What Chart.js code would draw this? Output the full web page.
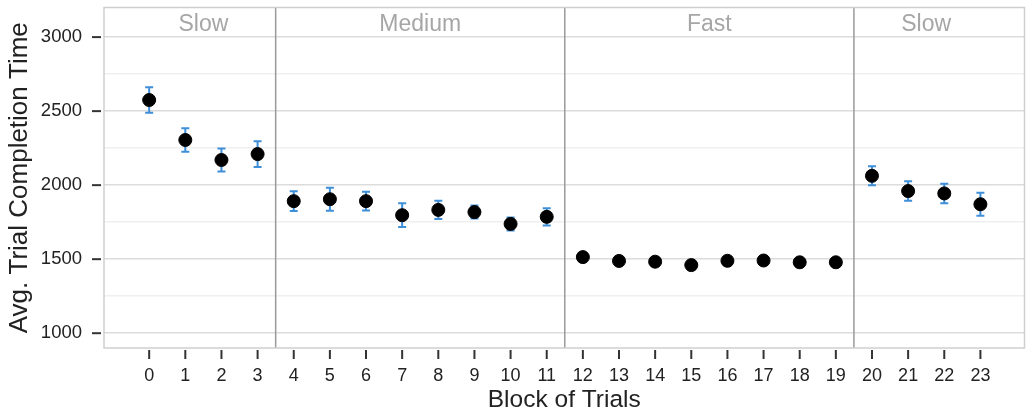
<!DOCTYPE html>
<html>
<head>
<meta charset="utf-8">
<script src="https://cdn.jsdelivr.net/npm/chart.js@4"></script>
<style>
  html, body { margin: 0; padding: 0; background: #fff; }
  #wrap { width: 1032px; height: 416px; }
</style>
</head>
<body>
<div id="wrap"><canvas id="chart" width="1032" height="416"></canvas></div>
<script>
// data
const blocks = [0, 1, 2, 3, 4, 5, 6, 7, 8, 9, 10, 11, 12, 13, 14, 15, 16, 17, 18, 19, 20, 21, 22, 23];
const meanTimes = [2575, 2305, 2170, 2210, 1892, 1905, 1892, 1797, 1833, 1818, 1738, 1786,
                   1514, 1488, 1483, 1460, 1489, 1491, 1479, 1479, 2063, 1960, 1944, 1871];
const errTimes = [86, 80, 78, 87, 66, 78, 64, 80, 62, 44, 44, 58,
                  14, 18, 12, 18, 12, 10, 11, 11, 64, 66, 66, 77];
const phaseNames = ['Slow', 'Medium', 'Fast', 'Slow'];
const phaseCenters = [1.5, 7.5, 15.5, 21.5];
const phaseBreaks = [3.5, 11.5, 19.5];
const yMajor = [1000, 1500, 2000, 2500, 3000];
const yMinor = [1250, 1750, 2250, 2750];

const FONT = "'Liberation Sans', Arial, Helvetica, sans-serif";

const panelPlugin = {
  id: 'panel',
  beforeDatasetsDraw(chart) {
    const ctx = chart.ctx;
    const a = chart.chartArea;
    const x = chart.scales.x, y = chart.scales.y;
    ctx.save();
    // phase separators
    ctx.strokeStyle = '#9a9a9a';
    ctx.lineWidth = 1.5;
    phaseBreaks.forEach(b => {
      const px = x.getPixelForValue(b);
      ctx.beginPath();
      ctx.moveTo(px, a.top);
      ctx.lineTo(px, a.bottom);
      ctx.stroke();
    });
    // panel border
    ctx.strokeStyle = '#cfcfcf';
    ctx.lineWidth = 1.5;
    ctx.strokeRect(a.left, a.top, a.right - a.left, a.bottom - a.top);
    // phase labels
    ctx.fillStyle = '#a6a6a6';
    ctx.font = '23px ' + FONT;
    ctx.textAlign = 'center';
    ctx.textBaseline = 'middle';
    phaseNames.forEach((n, i) => {
      ctx.fillText(n, x.getPixelForValue(phaseCenters[i]), a.top + 17);
    });
    // error bars
    ctx.strokeStyle = '#3f8fd8';
    ctx.lineWidth = 2;
    blocks.forEach((b, i) => {
      const px = x.getPixelForValue(b);
      const lo = y.getPixelForValue(meanTimes[i] - errTimes[i]);
      const hi = y.getPixelForValue(meanTimes[i] + errTimes[i]);
      ctx.beginPath();
      ctx.moveTo(px, lo); ctx.lineTo(px, hi);
      ctx.moveTo(px - 4, lo); ctx.lineTo(px + 4, lo);
      ctx.moveTo(px - 4, hi); ctx.lineTo(px + 4, hi);
      ctx.stroke();
    });
    ctx.restore();
  },
  afterDraw(chart) {
    // tick marks, detached from the panel like ggplot
    const ctx = chart.ctx;
    const a = chart.chartArea;
    const x = chart.scales.x, y = chart.scales.y;
    ctx.save();
    ctx.strokeStyle = '#333';
    ctx.lineWidth = 2;
    yMajor.forEach(v => {
      const py = y.getPixelForValue(v);
      ctx.beginPath();
      ctx.moveTo(a.left - 12, py); ctx.lineTo(a.left - 3, py);
      ctx.stroke();
    });
    blocks.forEach(v => {
      const px = x.getPixelForValue(v);
      ctx.beginPath();
      ctx.moveTo(px, a.bottom + 2); ctx.lineTo(px, a.bottom + 11);
      ctx.stroke();
    });
    ctx.restore();
  }
};

new Chart(document.getElementById('chart'), {
  type: 'scatter',
  data: {
    datasets: [{
      label: 'Avg. Trial Completion Time',
      data: blocks.map((b, i) => ({ x: b, y: meanTimes[i] })),
      backgroundColor: '#000',
      borderColor: '#000',
      pointRadius: 6.5,
      pointHoverRadius: 6.5
    }]
  },
  options: {
    responsive: false,
    animation: false,
    layout: { padding: { top: 7, right: -3, left: 0, bottom: 0 } },
    plugins: {
      legend: { display: false },
      tooltip: { enabled: false }
    },
    scales: {
      x: {
        type: 'linear',
        min: -1.25,
        max: 24.22,
        afterBuildTicks: s => { s.ticks = blocks.map(v => ({ value: v })); },
        afterFit: s => { s.height = 68; s.paddingLeft = 0; s.paddingRight = 0; },
        grid: { display: false, drawTicks: true, tickLength: 11, tickColor: 'rgba(0,0,0,0)' },
        border: { display: false },
        ticks: {
          autoSkip: false,
          maxRotation: 0,
          padding: 6,
          color: '#222',
          font: { family: FONT, size: 18 }
        },
        title: {
          display: true,
          text: 'Block of Trials',
          color: '#222',
          font: { family: FONT, size: 24.5 },
          padding: { top: 0, bottom: 1 }
        }
      },
      y: {
        min: 900,
        max: 3200,
        afterBuildTicks: s => {
          s.ticks = yMajor.concat(yMinor).sort((p, q) => p - q).map(v => ({ value: v }));
        },
        afterFit: s => { s.width = 104; s.paddingTop = 0; s.paddingBottom = 0; },
        grid: {
          drawTicks: true,
          tickLength: 12,
          tickColor: 'rgba(0,0,0,0)',
          lineWidth: 1.5,
          color: c => (yMajor.includes(c.tick && c.tick.value) ? '#dcdcdc' : '#efefef')
        },
        border: { display: false },
        ticks: {
          padding: 10,
          color: '#222',
          font: { family: FONT, size: 18.5 },
          callback: v => (yMajor.includes(v) ? String(v) : '')
        },
        title: {
          display: true,
          text: 'Avg. Trial Completion Time',
          color: '#222',
          font: { family: FONT, size: 26 },
          padding: { top: 4, bottom: 0 }
        }
      }
    }
  },
  plugins: [panelPlugin]
});
</script>
</body>
</html>
